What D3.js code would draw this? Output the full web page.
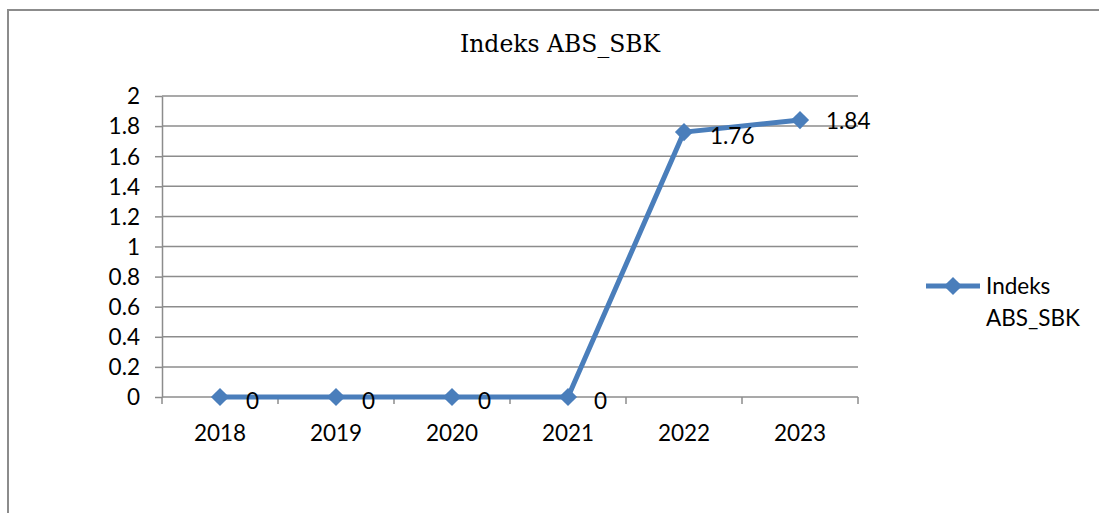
<!DOCTYPE html>
<html>
<head>
<meta charset="utf-8">
<script src="https://cdn.jsdelivr.net/npm/d3@7"></script>
<style>
	body { margin: 0; background: #fff; }
	svg { display: block; }
	.grid line { stroke: #8c8c8c; stroke-width: 1.5; }
	.axis path, .axis line { stroke: #8c8c8c; stroke-width: 1.5; }
	.axis text { font-family: Lato, "Open Sans", sans-serif; font-size: 22.5px; fill: #000; }
	.lbl { font-family: Lato, "Open Sans", sans-serif; font-size: 22.5px; fill: #000; }
</style>
</head>
<body>
<svg id="chart" width="1099" height="513"></svg>
<script>
var years = ["2018", "2019", "2020", "2021", "2022", "2023"];
var values = [0, 0, 0, 0, 1.76, 1.84];
var yTicks = [0, 0.2, 0.4, 0.6, 0.8, 1, 1.2, 1.4, 1.6, 1.8, 2];
var seriesName = "Indeks ABS_SBK";

var svg = d3.select("#chart");
var blue = "#4a7ebb";

// outer frame (only top and left visible)
svg.append("path")
	.attr("d", "M8,513 L8,10 L1099,10")
	.attr("fill", "none")
	.attr("stroke", "#8c8c8c")
	.attr("stroke-width", 2);

svg.append("text")
	.attr("x", 560)
	.attr("y", 52)
	.attr("text-anchor", "middle")
	.style("font-family", "'DejaVu Serif', serif")
	.style("font-size", "23.5px")
	.text(seriesName);

var x = d3.scaleBand().domain(years).range([162, 858]);
var y = d3.scaleLinear().domain([0, 2]).range([397, 96]);

svg.append("g")
	.attr("class", "grid")
	.selectAll("line")
	.data(yTicks.slice(1))
	.enter()
	.append("line")
		.attr("x1", 162).attr("x2", 858)
		.attr("y1", function(d) { return y(d); })
		.attr("y2", function(d) { return y(d); });

var yAxis = svg.append("g")
	.attr("class", "axis")
	.attr("transform", "translate(162,0)")
	.call(d3.axisLeft(y).tickValues(yTicks).tickSize(7).tickSizeOuter(0).tickPadding(15)
		.tickFormat(function(d) { return String(d); }));
yAxis.selectAll("text").attr("dy", "0.35em");

// x axis: ticks between categories
var xAxis = svg.append("g").attr("class", "axis");
xAxis.append("line")
	.attr("x1", 162).attr("x2", 858)
	.attr("y1", y(0)).attr("y2", y(0));
var edges = years.map(function(d) { return x(d); }).concat([858]);
xAxis.selectAll(".tk")
	.data(edges)
	.enter()
	.append("line")
		.attr("class", "tk")
		.attr("x1", function(d) { return d; })
		.attr("x2", function(d) { return d; })
		.attr("y1", y(0)).attr("y2", y(0) + 7);
xAxis.selectAll(".cat")
	.data(years)
	.enter()
	.append("text")
		.attr("class", "cat")
		.attr("x", function(d) { return x(d) + x.bandwidth() / 2; })
		.attr("y", 441)
		.attr("text-anchor", "middle")
		.text(function(d) { return d; });

var pts = years.map(function(d, i) { return { year: d, v: values[i] }; });
var cx = function(d) { return x(d.year) + x.bandwidth() / 2; };

svg.append("path")
	.datum(pts)
	.attr("fill", "none")
	.attr("stroke", blue)
	.attr("stroke-width", 5)
	.attr("stroke-linejoin", "round")
	.attr("d", d3.line().x(cx).y(function(d) { return y(d.v); }));

// rotated square marker
var diamond = d3.symbol().type(d3.symbolSquare).size(165);

svg.selectAll(".mk")
	.data(pts)
	.enter()
	.append("path")
		.attr("class", "mk")
		.attr("d", diamond)
		.attr("fill", blue)
		.attr("transform", function(d) { return "translate(" + cx(d) + "," + y(d.v) + ") rotate(45)"; });

svg.selectAll(".dl")
	.data(pts)
	.enter()
	.append("text")
		.attr("class", "lbl")
		.attr("x", function(d) { return cx(d) + 26; })
		.attr("y", function(d) { return y(d.v) + (d.v > 1.8 ? 1 : 4); })
		.attr("dy", "0.35em")
		.text(function(d) { return String(d.v); });

// legend
var leg = svg.append("g");
leg.append("line")
	.attr("x1", 926).attr("x2", 980)
	.attr("y1", 286).attr("y2", 286)
	.attr("stroke", blue)
	.attr("stroke-width", 5);
leg.append("path")
	.attr("d", diamond)
	.attr("fill", blue)
	.attr("transform", "translate(953,286) rotate(45)");
leg.append("text")
	.attr("class", "lbl")
	.attr("x", 986).attr("y", 294)
	.text("Indeks");
leg.append("text")
	.attr("class", "lbl")
	.attr("x", 986).attr("y", 326)
	.text("ABS_SBK");
</script>
</body>
</html>
